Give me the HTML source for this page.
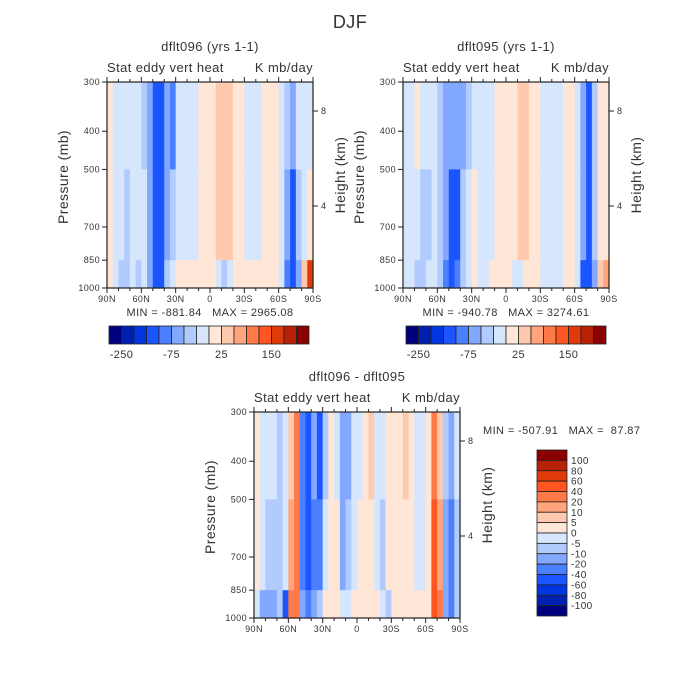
<!DOCTYPE html>
<html><head><meta charset="utf-8">
<style>
body{margin:0;background:#fff;}
svg{display:block;font-family:"Liberation Sans",sans-serif;fill:#222;}
text{fill:#333;letter-spacing:0.4px;}
</style></head>
<body>
<svg id="chart" width="700" height="700" viewBox="0 0 700 700">
<text x="350" y="28" font-size="18" text-anchor="middle">DJF</text>
</svg>
<script>
// Latitude bins (centres, degrees north positive)
const lats = [87.5,82.5,77.5,72.5,67.5,62.5,57.5,52.5,47.5,42.5,37.5,32.5,27.5,22.5,17.5,12.5,7.5,2.5,-2.5,-7.5,-12.5,-17.5,-22.5,-27.5,-32.5,-37.5,-42.5,-47.5,-52.5,-57.5,-62.5,-67.5,-72.5,-77.5,-82.5,-87.5];
// pressure layer boundaries (mb)
const pBounds = [300,500,850,1000];

// dflt096 values by layer
const a096Upper = [10,-10,-10,-10,-10,-10,-30,-60,-110,-120,-60,-90,-10,-10,-20,-10,10,10,20,30,40,30,20,10,-10,-10,-10,10,10,10,-10,-30,-60,-20,-10,-10];
const a096Mid   = [10,-10,-20,-30,-20,-10,-20,-60,-120,-130,-60,-30,-10,-10,-10,-10,10,10,20,30,40,30,20,10,-10,-10,-10,10,10,10,-10,-60,-110,-40,-10,20];
const a096Low   = [10,-10,-30,-30,-10,-30,-10,-60,-110,-110,-30,-10,10,10,10,10,10,10,10,-10,-30,-10,10,10,10,10,10,10,10,10,-10,-90,-130,-60,30,150];

// dflt095 values by layer
const a095Upper = [-10,-10,10,-10,-10,-10,-30,-60,-60,-60,-60,-30,-10,-10,-10,-10,10,10,10,10,30,30,10,10,-10,-10,-10,-10,10,10,-10,-60,-110,-30,10,10];
const a095Mid   = [-10,-10,-10,-30,-30,-20,-30,-70,-110,-110,-50,-10,10,-10,-10,-10,10,10,10,20,40,30,20,10,-10,-10,-10,-10,10,10,-10,-70,-110,-40,10,20];
const a095Low   = [-10,-10,-30,-30,-10,-10,-50,-90,-110,-90,-30,-10,10,-10,-10,10,10,10,10,-10,-10,10,10,10,-10,-10,-10,-10,10,10,-10,-110,-130,-60,30,60];

// difference values by layer
const aDiffUpper = [3,-3,-3,-3,-8,-3,8,30,-30,-50,-20,-50,-8,3,-3,-15,-15,-3,-3,3,8,-3,-3,3,3,3,8,3,-3,-3,3,30,8,-8,-15,-3];
const aDiffMid   = [3,-3,-8,-8,-8,-3,15,30,-30,-50,-25,-30,-3,3,3,-15,-8,-3,3,3,3,-3,-8,3,3,3,3,3,-3,-3,3,40,15,-15,-25,-8];
const aDiffLow   = [-3,-15,-20,-20,-8,-50,30,30,-15,-30,-15,-8,3,3,3,-3,-3,3,3,3,3,3,-3,-8,3,3,3,3,3,3,3,40,20,-15,-25,-8];

const levelsFull = [-250,-200,-150,-100,-75,-50,-25,0,25,50,75,100,150,200,250];
const levelsDiff = [-100,-80,-60,-40,-20,-10,-5,0,5,10,20,40,60,80,100];
const fullBarLabels = ["-250","-75","25","150"];
const fullBarLabelIdx = [1,5,9,13];
const diffBarLabels = ["100","80","60","40","20","10","5","0","-5","-10","-20","-40","-60","-80","-100"];
const latTicks = ["90N","60N","30N","0","30S","60S","90S"];
const pTicks = [300,400,500,700,850,1000];
const hTicks = [4,8];
const colors = ["#00007f","#0020b0","#0035e0","#1a55ff","#4a7fff","#82a8ff","#b2cbff","#d6e6fc","#ffe6d6","#ffc9ae","#ffa47c","#ff7a48","#ff5520","#e03a0a","#b82008","#8b0000"];

const svg = document.getElementById('chart');
const NS = "http://www.w3.org/2000/svg";
function mk(tag, attrs, parent){
  const e = document.createElementNS(NS, tag);
  for (const k in attrs) e.setAttribute(k, attrs[k]);
  (parent||svg).appendChild(e);
  return e;
}
function txt(x,y,s,size,anchor,parent){
  const t = mk('text',{x:x,y:y,'font-size':size,'text-anchor':anchor||'middle'},parent);
  t.textContent = s.replace(/ /g, '\u00a0');
  return t;
}
function colorFor(v, levels){
  let i = 0;
  while (i < levels.length && v >= levels[i]) i++;
  return colors[i];
}

function panel(name, x0, y0, x1, y1, up, mid, low, levels, title){
  const g = mk('g',{});
  
  
  const xs = lat => x0 + (90 - lat) / 180 * (x1 - x0);
  const ys = p => y1 - Math.log(1000 / p) / Math.log(1000 / 300) * (y1 - y0);
  const layers = [up, mid, low];
  for (let L = 0; L < 3; L++){
    for (let i = 0; i < lats.length; i++){
      const xa = xs(lats[i] + 2.5), xb = xs(lats[i] - 2.5);
      const ya = ys(pBounds[L]), yb = ys(pBounds[L+1]);
      const r = mk('rect',{x:xa,y:ya,width:xb-xa+0.6,height:yb-ya+0.6,fill:colorFor(layers[L][i],levels)},g);
      
      
    }
  }
  const fr = mk('rect',{x:x0,y:y0,width:x1-x0,height:y1-y0,fill:'none',stroke:'#222','stroke-width':1.2},g);
  
  
  for (let k = 0; k <= 18; k++){
    const lat = 90 - k*10, x = xs(lat), major = (k % 3 === 0);
    const len = major ? 5 : 3;
    mk('line',{x1:x,y1:y1,x2:x,y2:y1+len,stroke:'#222'},g);
    mk('line',{x1:x,y1:y0,x2:x,y2:y0-len,stroke:'#222'},g);
  }
  latTicks.forEach((s,k)=>{
    const t = txt(xs(90-k*30), y1+14, s, 9, 'middle', g);
    
    
  });
  pTicks.forEach(p=>{
    const y = ys(p);
    mk('line',{x1:x0-5,y1:y,x2:x0,y2:y,stroke:'#222'},g);
    const t = txt(x0-7, y+3, String(p), 9, 'end', g);
    
    
  });
  const hy4 = y0 + (206-82)/206*(y1-y0), hy8 = y0 + (111-82)/206*(y1-y0);
  const hpos = [hy4, hy8];
  hTicks.forEach((h,k)=>{
    mk('line',{x1:x1,y1:hpos[k],x2:x1+5,y2:hpos[k],stroke:'#222'},g);
    const t = txt(x1+8, hpos[k]+3, String(h), 9, 'start', g);
    
    
  });
  const tt = txt((x0+x1)/2, y0-31, title, 13, 'middle', g);
  
  
  const st = txt(x0, y0-10, 'Stat eddy vert heat', 13, 'start', g);
  
  
  const un = txt(x1, y0-10, 'K mb/day', 13, 'end', g);
  
  
  const ya = txt(0,0,'Pressure (mb)', 14, 'middle', g);
  ya.setAttribute('transform', `translate(${x0-39},${(y0+y1)/2 - 8}) rotate(-90)`);
  
  
  const yb = txt(0,0,'Height (km)', 14, 'middle', g);
  yb.setAttribute('transform', `translate(${x1+32},${(y0+y1)/2 - 10}) rotate(-90)`);
  
  
}

function hbar(name, x0, y0, w, h){
  const g = mk('g',{});
  
  
  const bw = w / colors.length;
  colors.forEach((c,i)=>{
    const r = mk('rect',{x:x0+i*bw,y:y0,width:bw,height:h,fill:c,stroke:'#222','stroke-width':0.8},g);
    
    
  });
  fullBarLabels.forEach((s,k)=>{
    const t = txt(x0+fullBarLabelIdx[k]*bw, y0+h+14, s, 11, 'middle', g);
    
    
  });
}
function vbar(name, x0, y0, w, h){
  const g = mk('g',{});
  
  
  const bh = h / colors.length;
  for (let i = 0; i < colors.length; i++){
    const r = mk('rect',{x:x0,y:y0+i*bh,width:w,height:bh,fill:colors[colors.length-1-i],stroke:'#222','stroke-width':0.8},g);
    
    
  }
  diffBarLabels.forEach((s,k)=>{
    const t = txt(x0+w+4, y0+(k+1)*bh+3.5, s, 10, 'start', g);
    
    
  });
}

panel('panel-dflt096', 107, 82, 313, 288, a096Upper, a096Mid, a096Low, levelsFull, 'dflt096 (yrs 1-1)');
panel('panel-dflt095', 403, 82, 609, 288, a095Upper, a095Mid, a095Low, levelsFull, 'dflt095 (yrs 1-1)');
panel('panel-difference', 254, 412, 460, 618, aDiffUpper, aDiffMid, aDiffLow, levelsDiff, 'dflt096 - dflt095');

let t;
t = txt(210, 316, 'MIN = -881.84   MAX = 2965.08', 11, 'middle');
 
t = txt(506, 316, 'MIN = -940.78   MAX = 3274.61', 11, 'middle');
 
t = txt(483, 434, 'MIN = -507.91   MAX =  87.87', 11, 'start');
 

hbar('colorbar-096', 109, 326, 200, 18);
hbar('colorbar-095', 406, 326, 200, 18);
vbar('colorbar-diff', 537, 450, 30, 166);
</script>
</body></html>
